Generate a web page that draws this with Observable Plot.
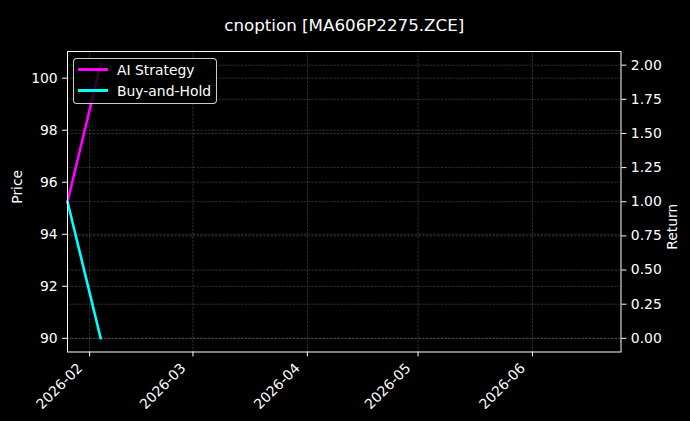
<!DOCTYPE html>
<html><head><meta charset="utf-8">
<script src="https://cdn.jsdelivr.net/npm/d3@7"></script>
<script src="https://cdn.jsdelivr.net/npm/@observablehq/plot@0.6"></script>
<style>
html,body{margin:0;padding:0;background:#000;}
#wrap{position:relative;width:690px;height:421px;background:#000;overflow:hidden;}
#legend{position:absolute;left:73px;top:58px;width:144px;height:46px;box-sizing:border-box;border:1px solid rgba(255,255,255,0.8);border-radius:4px;background:rgba(0,0,0,0.8);font-family:"DejaVu Sans";font-size:13.9px;color:#fff;}
.row{position:absolute;left:0;height:16px;line-height:16px;white-space:nowrap;width:100%;}
.sw{position:absolute;left:4px;top:6.7px;width:30px;height:2.6px;}
.lbl{position:absolute;left:43px;top:0;}
</style></head><body>
<div id="wrap"><div id="chart"></div><div id="legend"></div></div>
<script>
const title = "cnoption [MA606P2275.ZCE]";
const dates = ["2026-01-26", "2026-02-04"];
const aiReturn = [1.0, 2.01];
const bhReturn = [1.0, 0.0];
const seriesNames = ["AI Strategy", "Buy-and-Hold"];
const seriesColors = ["#ff00ff", "#00ffff"];
const xDomain = ["2026-01-26", "2026-06-25"];
const xTicks = ["2026-02-01", "2026-03-01", "2026-04-01", "2026-05-01", "2026-06-01"];
const priceDomain = [89.475, 101.025];
const priceTicks = [90, 92, 94, 96, 98, 100];
const returnDomain = [-0.1, 2.1];
const returnTicks = [0, 0.25, 0.5, 0.75, 1.0, 1.25, 1.5, 1.75, 2.0];

const parse = d3.utcParse("%Y-%m-%d");
const rows = dates.map((d, i) => ({date: parse(d), ai: aiReturn[i], bh: bhReturn[i]}));
const toY = p => returnDomain[0] + (p - priceDomain[0]) / (priceDomain[1] - priceDomain[0]) * (returnDomain[1] - returnDomain[0]);
const toPrice = y => priceDomain[0] + (y - returnDomain[0]) / (returnDomain[1] - returnDomain[0]) * (priceDomain[1] - priceDomain[0]);
const gridStyle = {stroke: "#fff", strokeOpacity: 0.3, strokeWidth: 0.6, strokeDasharray: "2.6,1.1"};
const monthFmt = d3.utcFormat("%Y-%m");

const chart = Plot.plot({
  width: 690, height: 421,
  marginLeft: 67, marginRight: 69.5, marginTop: 51, marginBottom: 69.5,
  style: {background: "#000", color: "#fff", fontFamily: "DejaVu Sans", fontSize: "13.9px", overflow: "visible"},
  x: {type: "utc", domain: xDomain.map(parse)},
  y: {domain: returnDomain},
  marks: [
    Plot.gridX(xTicks.map(parse), gridStyle),
    Plot.gridY(priceTicks.map(toY), gridStyle),
    Plot.gridY(returnTicks, gridStyle),
    Plot.lineY(rows, {x: "date", y: "ai", stroke: seriesColors[0], strokeWidth: 2.6}),
    Plot.lineY(rows, {x: "date", y: "bh", stroke: seriesColors[1], strokeWidth: 2.6}),
    Plot.frame({stroke: "#fff", strokeWidth: 1}),
    Plot.axisX({ticks: xTicks.map(parse), tickFormat: () => "", tickSize: 4.9, label: null}),
    Plot.text(xTicks.map(parse), {x: d => d, text: d => monthFmt(d), frameAnchor: "bottom", rotate: -45, textAnchor: "end", dx: -6.5, dy: 17, fill: "#fff"}),
    Plot.axisY({anchor: "left", ticks: priceTicks.map(toY), tickFormat: d => String(Math.round(toPrice(d))), tickSize: 4.9, tickPadding: 4.9, label: null}),
    Plot.axisY({anchor: "right", ticks: returnTicks, tickFormat: d3.format(".2f"), tickSize: 4.9, tickPadding: 4.9, label: null}),
    Plot.text([title], {text: d => d, frameAnchor: "top", dy: -32, fontSize: 16.7, fill: "#fff"}),
    Plot.text(["Price"], {text: d => d, frameAnchor: "left", rotate: -90, dx: -50, dy: 2, fill: "#fff"}),
    Plot.text(["Return"], {text: d => d, frameAnchor: "right", rotate: -90, dx: 51.5, dy: 2, fill: "#fff"})
  ]
});
document.getElementById("chart").appendChild(chart);

const legend = document.getElementById("legend");
const rowTops = [2.5, 23.5];
seriesNames.forEach((name, i) => {
  const row = document.createElement("div");
  row.className = "row";
  row.style.top = rowTops[i] + "px";
  const sw = document.createElement("div");
  sw.className = "sw";
  sw.style.background = seriesColors[i];
  const lbl = document.createElement("span");
  lbl.className = "lbl";
  lbl.textContent = name;
  row.appendChild(sw);
  row.appendChild(lbl);
  legend.appendChild(row);
});
</script>
</body></html>
